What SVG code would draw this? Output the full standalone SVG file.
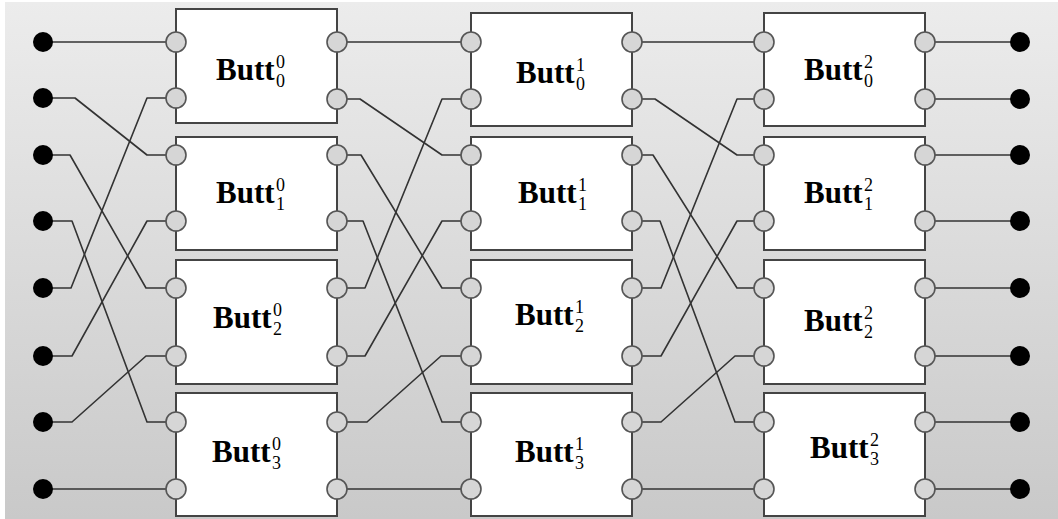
<svg xmlns="http://www.w3.org/2000/svg" width="1058" height="519" viewBox="0 0 1058 519">
  <defs>
    <linearGradient id="bg" x1="0" y1="0" x2="0" y2="1">
      <stop offset="0" stop-color="#ececec"/>
      <stop offset="1" stop-color="#c9c9c9"/>
    </linearGradient>
    <style>
      .box { fill: #ffffff; stroke: #444444; stroke-width: 2; }
      .port { fill: #d6d6d6; stroke: #555555; stroke-width: 1.6; }
      .term { fill: #000000; }
      .wire { fill: none; stroke: #333333; stroke-width: 1.6; stroke-linejoin: round; }
      .lbl { font-family: "Liberation Serif", "Times New Roman", serif; font-weight: bold; font-size: 31px; fill: #000000; }
      .idx { font-family: "Liberation Serif", "Times New Roman", serif; font-size: 18px; fill: #000000; }
    </style>
  </defs>

  <rect x="0" y="0" width="1058" height="519" fill="#ffffff"/>
  <rect x="5" y="2" width="1053" height="517" fill="url(#bg)"/>

  <!-- connectors -->
  <g id="connectors" class="wire">
    <!-- inputs to stage 0 -->
    <path d="M43 42 H176"/>
    <path d="M43 98 H75 L147 155 H176"/>
    <path d="M43 155 H70 L146 288 H176"/>
    <path d="M43 221 H72 L147 422 H176"/>
    <path d="M43 288 H71 L147 98 H176"/>
    <path d="M43 356 H72 L147 221 H176"/>
    <path d="M43 422 H72 L146 356 H176"/>
    <path d="M43 489 H176"/>
    <!-- stage 0 to stage 1 -->
    <path d="M337 42 H471"/>
    <path d="M337 99 H360 L442 155 H471"/>
    <path d="M337 155 H361 L442 288 H471"/>
    <path d="M337 221 H363 L442 422 H471"/>
    <path d="M337 288 H365 L442 99 H471"/>
    <path d="M337 356 H365 L442 221 H471"/>
    <path d="M337 422 H367 L441 356 H471"/>
    <path d="M337 489 H471"/>
    <!-- stage 1 to stage 2 -->
    <path d="M632 42 H764"/>
    <path d="M632 99 H655 L737 155 H764"/>
    <path d="M632 155 H653 L737 288 H764"/>
    <path d="M632 221 H660 L735 422 H764"/>
    <path d="M632 288 H661 L737 99 H764"/>
    <path d="M632 356 H661 L737 221 H764"/>
    <path d="M632 422 H661 L735 356 H764"/>
    <path d="M632 489 H764"/>
    <!-- stage 2 to outputs -->
    <path d="M925 42 H1020"/>
    <path d="M925 99 H1020"/>
    <path d="M925 155 H1020"/>
    <path d="M925 221 H1020"/>
    <path d="M925 288 H1020"/>
    <path d="M925 356 H1020"/>
    <path d="M925 422 H1020"/>
    <path d="M925 489 H1020"/>
  </g>

  <!-- input terminals -->
  <g id="inputs" class="term">
    <circle cx="43" cy="42" r="10"/>
    <circle cx="43" cy="98" r="10"/>
    <circle cx="43" cy="155" r="10"/>
    <circle cx="43" cy="221" r="10"/>
    <circle cx="43" cy="288" r="10"/>
    <circle cx="43" cy="356" r="10"/>
    <circle cx="43" cy="422" r="10"/>
    <circle cx="43" cy="489" r="10"/>
  </g>

  <!-- output terminals -->
  <g id="outputs" class="term">
    <circle cx="1020" cy="42" r="10"/>
    <circle cx="1020" cy="99" r="10"/>
    <circle cx="1020" cy="155" r="10"/>
    <circle cx="1020" cy="221" r="10"/>
    <circle cx="1020" cy="288" r="10"/>
    <circle cx="1020" cy="356" r="10"/>
    <circle cx="1020" cy="422" r="10"/>
    <circle cx="1020" cy="489" r="10"/>
  </g>

  <!-- stage 0 -->
  <g id="butt-0-0">
    <rect class="box" x="176" y="9" width="161" height="114"/>
    <circle class="port" cx="176" cy="42" r="10"/><circle class="port" cx="176" cy="98" r="10"/>
    <circle class="port" cx="337" cy="42" r="10"/><circle class="port" cx="337" cy="99" r="10"/>
    <text class="lbl" x="216" y="80">Butt</text>
    <text class="idx" x="276" y="68">0</text><text class="idx" x="276" y="87">0</text>
  </g>
  <g id="butt-0-1">
    <rect class="box" x="176" y="137" width="161" height="113"/>
    <circle class="port" cx="176" cy="155" r="10"/><circle class="port" cx="176" cy="221" r="10"/>
    <circle class="port" cx="337" cy="155" r="10"/><circle class="port" cx="337" cy="221" r="10"/>
    <text class="lbl" x="216" y="203">Butt</text>
    <text class="idx" x="276" y="191">0</text><text class="idx" x="276" y="210">1</text>
  </g>
  <g id="butt-0-2">
    <rect class="box" x="176" y="260" width="161" height="124"/>
    <circle class="port" cx="176" cy="288" r="10"/><circle class="port" cx="176" cy="356" r="10"/>
    <circle class="port" cx="337" cy="288" r="10"/><circle class="port" cx="337" cy="356" r="10"/>
    <text class="lbl" x="213" y="328">Butt</text>
    <text class="idx" x="273" y="316">0</text><text class="idx" x="273" y="335">2</text>
  </g>
  <g id="butt-0-3">
    <rect class="box" x="176" y="393" width="161" height="123"/>
    <circle class="port" cx="176" cy="422" r="10"/><circle class="port" cx="176" cy="489" r="10"/>
    <circle class="port" cx="337" cy="422" r="10"/><circle class="port" cx="337" cy="489" r="10"/>
    <text class="lbl" x="212" y="462">Butt</text>
    <text class="idx" x="272" y="450">0</text><text class="idx" x="272" y="469">3</text>
  </g>

  <!-- stage 1 -->
  <g id="butt-1-0">
    <rect class="box" x="471" y="13" width="161" height="113"/>
    <circle class="port" cx="471" cy="42" r="10"/><circle class="port" cx="471" cy="99" r="10"/>
    <circle class="port" cx="632" cy="42" r="10"/><circle class="port" cx="632" cy="99" r="10"/>
    <text class="lbl" x="516" y="83">Butt</text>
    <text class="idx" x="576" y="71">1</text><text class="idx" x="576" y="90">0</text>
  </g>
  <g id="butt-1-1">
    <rect class="box" x="471" y="137" width="161" height="113"/>
    <circle class="port" cx="471" cy="155" r="10"/><circle class="port" cx="471" cy="221" r="10"/>
    <circle class="port" cx="632" cy="155" r="10"/><circle class="port" cx="632" cy="221" r="10"/>
    <text class="lbl" x="518" y="203">Butt</text>
    <text class="idx" x="578" y="191">1</text><text class="idx" x="578" y="210">1</text>
  </g>
  <g id="butt-1-2">
    <rect class="box" x="471" y="260" width="161" height="124"/>
    <circle class="port" cx="471" cy="288" r="10"/><circle class="port" cx="471" cy="356" r="10"/>
    <circle class="port" cx="632" cy="288" r="10"/><circle class="port" cx="632" cy="356" r="10"/>
    <text class="lbl" x="515" y="325">Butt</text>
    <text class="idx" x="575" y="313">1</text><text class="idx" x="575" y="332">2</text>
  </g>
  <g id="butt-1-3">
    <rect class="box" x="471" y="393" width="161" height="123"/>
    <circle class="port" cx="471" cy="422" r="10"/><circle class="port" cx="471" cy="489" r="10"/>
    <circle class="port" cx="632" cy="422" r="10"/><circle class="port" cx="632" cy="489" r="10"/>
    <text class="lbl" x="515" y="462">Butt</text>
    <text class="idx" x="575" y="450">1</text><text class="idx" x="575" y="469">3</text>
  </g>

  <!-- stage 2 -->
  <g id="butt-2-0">
    <rect class="box" x="764" y="13" width="161" height="113"/>
    <circle class="port" cx="764" cy="42" r="10"/><circle class="port" cx="764" cy="99" r="10"/>
    <circle class="port" cx="925" cy="42" r="10"/><circle class="port" cx="925" cy="99" r="10"/>
    <text class="lbl" x="804" y="80">Butt</text>
    <text class="idx" x="864" y="68">2</text><text class="idx" x="864" y="87">0</text>
  </g>
  <g id="butt-2-1">
    <rect class="box" x="764" y="137" width="161" height="113"/>
    <circle class="port" cx="764" cy="155" r="10"/><circle class="port" cx="764" cy="221" r="10"/>
    <circle class="port" cx="925" cy="155" r="10"/><circle class="port" cx="925" cy="221" r="10"/>
    <text class="lbl" x="804" y="203">Butt</text>
    <text class="idx" x="864" y="191">2</text><text class="idx" x="864" y="210">1</text>
  </g>
  <g id="butt-2-2">
    <rect class="box" x="764" y="260" width="161" height="124"/>
    <circle class="port" cx="764" cy="288" r="10"/><circle class="port" cx="764" cy="356" r="10"/>
    <circle class="port" cx="925" cy="288" r="10"/><circle class="port" cx="925" cy="356" r="10"/>
    <text class="lbl" x="804" y="331">Butt</text>
    <text class="idx" x="864" y="319">2</text><text class="idx" x="864" y="338">2</text>
  </g>
  <g id="butt-2-3">
    <rect class="box" x="764" y="393" width="161" height="123"/>
    <circle class="port" cx="764" cy="422" r="10"/><circle class="port" cx="764" cy="489" r="10"/>
    <circle class="port" cx="925" cy="422" r="10"/><circle class="port" cx="925" cy="489" r="10"/>
    <text class="lbl" x="810" y="458">Butt</text>
    <text class="idx" x="870" y="446">2</text><text class="idx" x="870" y="465">3</text>
  </g>
</svg>
